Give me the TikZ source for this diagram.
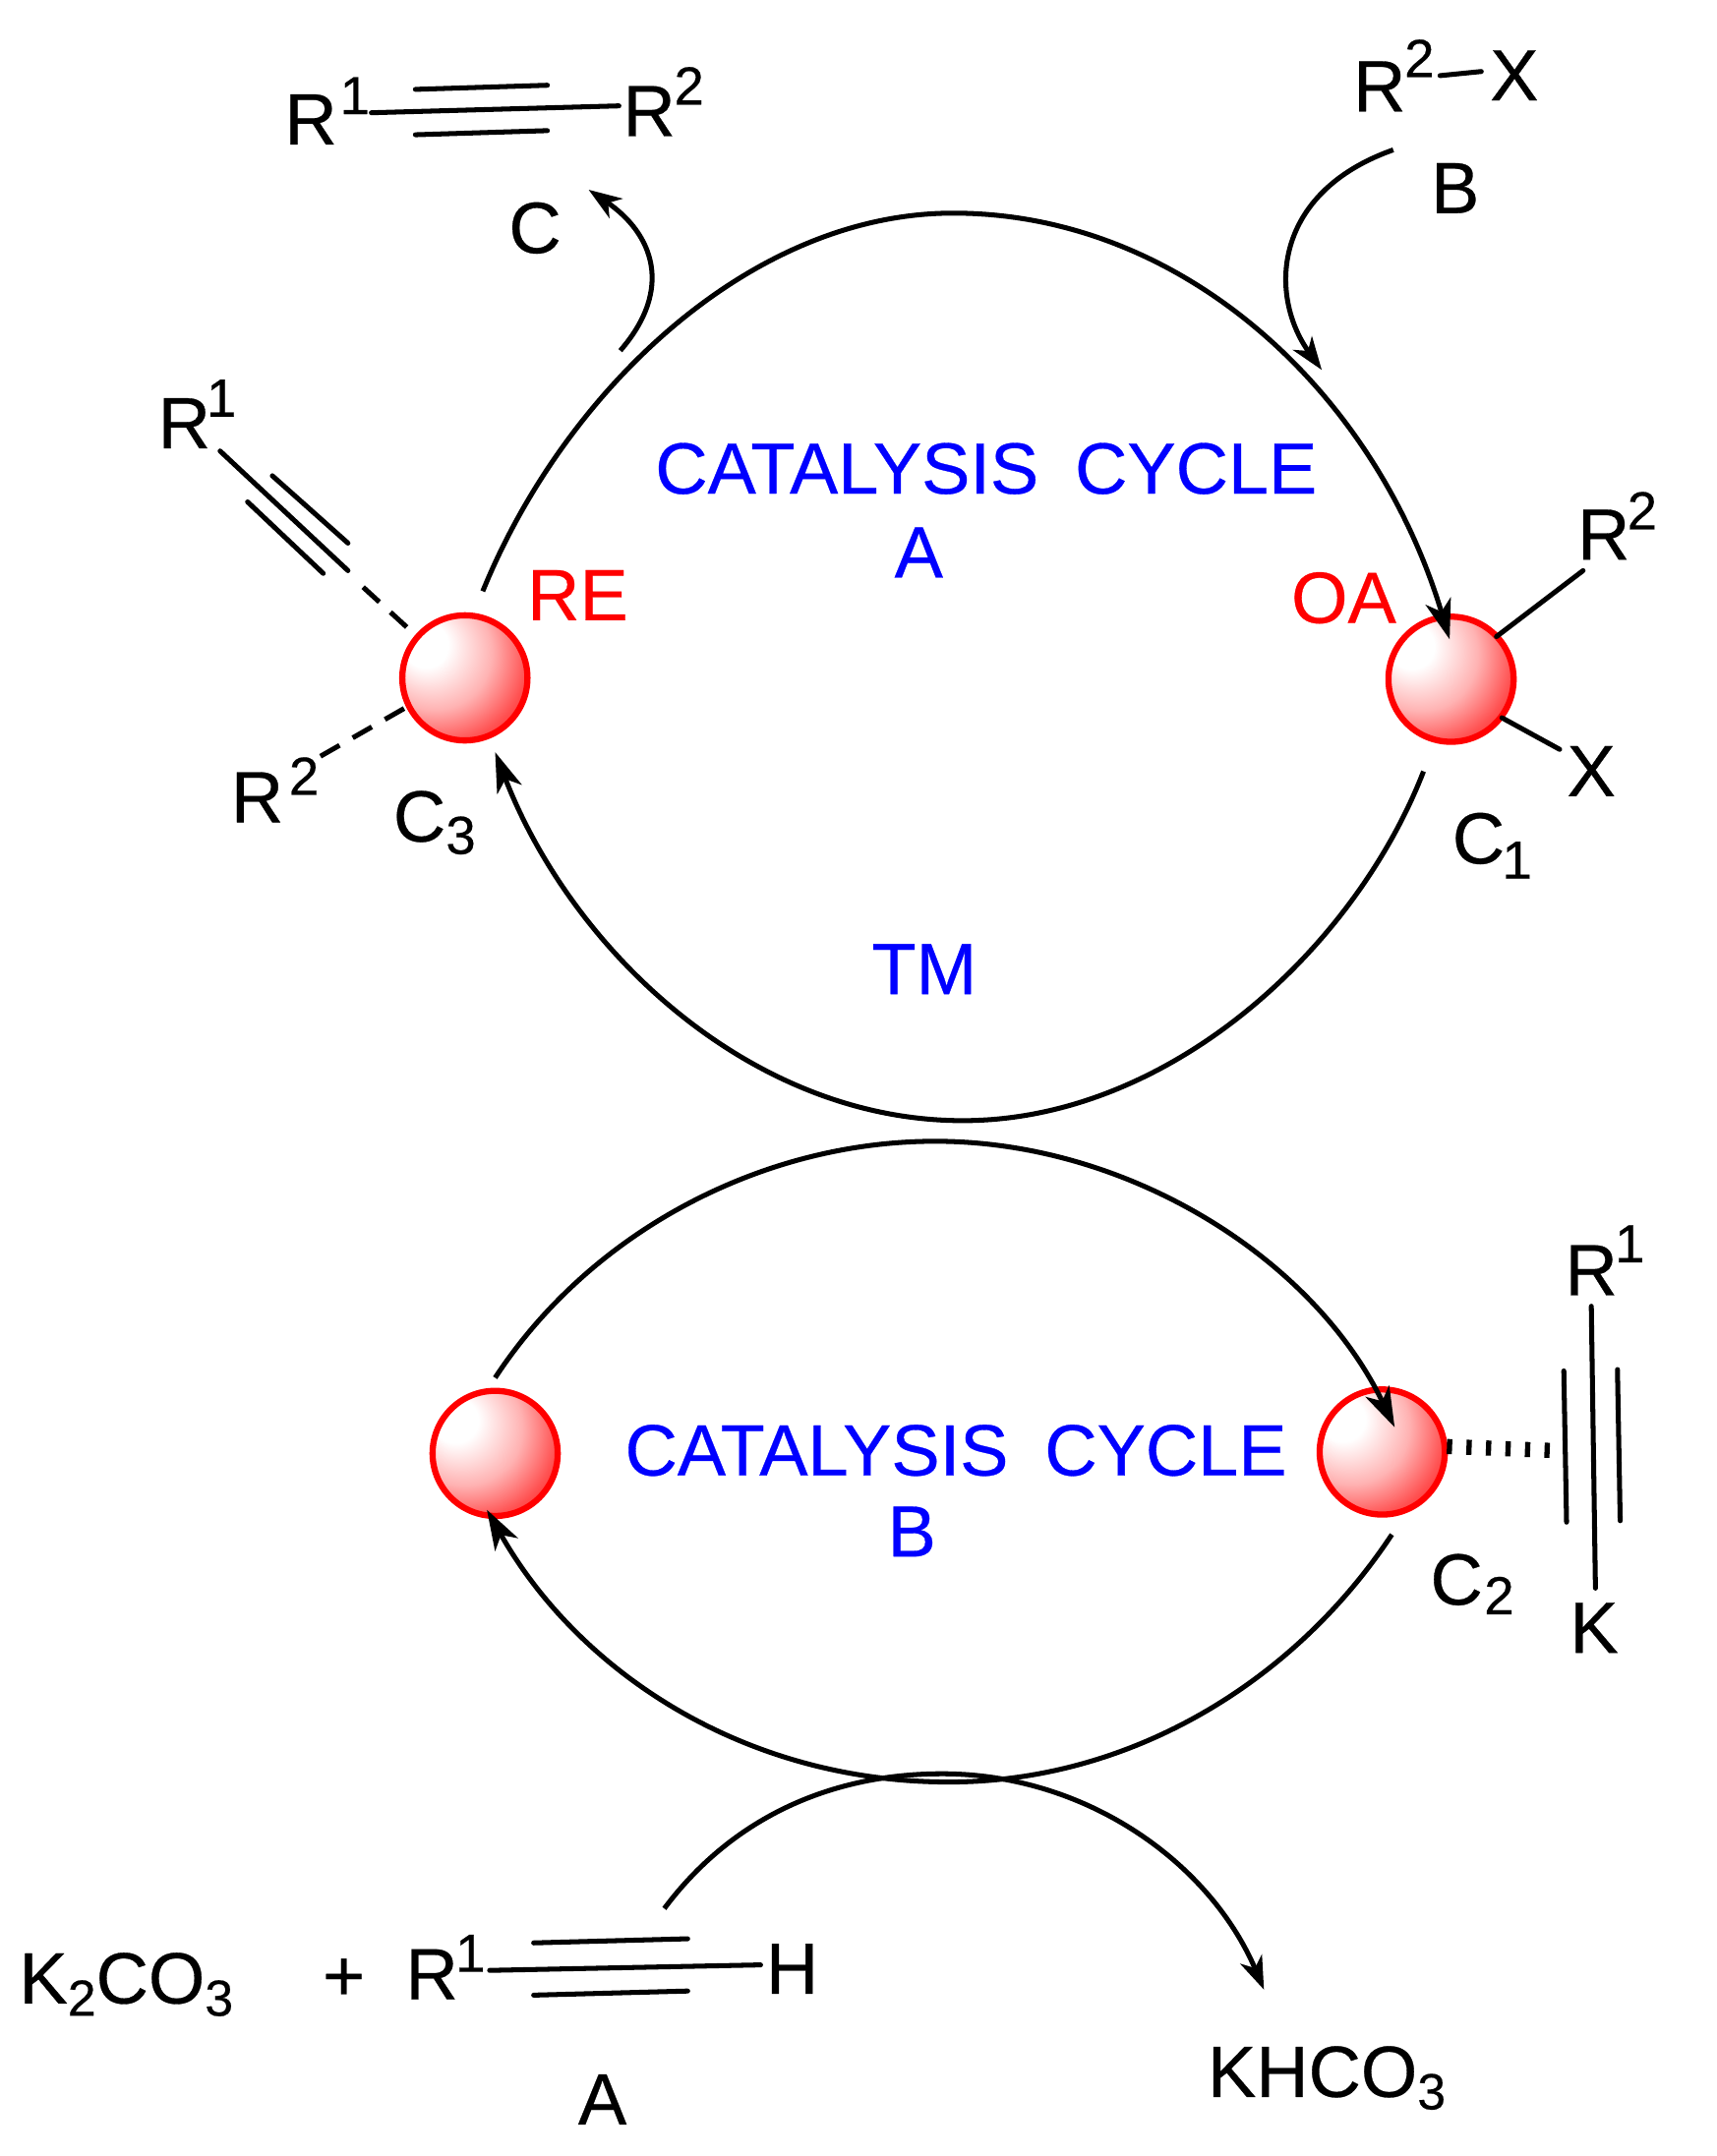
\documentclass[tikz,border=0pt]{standalone}
\usepackage{fontspec}
\setmainfont[FakeBold=0.4]{Liberation Sans}
\usetikzlibrary{arrows.meta}
\pgfdeclareradialshading{redball}{\pgfpoint{-18bp}{15bp}}{color(0bp)=(white);color(9bp)=(white);color(23bp)=(red!30!white);color(34bp)=(red!68!white);color(45bp)=(red!97!white);color(72bp)=(red)}
\newcommand{\bodyfs}{\fontsize{52.8}{60}\selectfont}
\newcommand{\supfs}{\fontsize{39}{44}\selectfont}
\newcommand{\subfs}{\fontsize{37}{44}\selectfont}
\tikzset{
  x=1pt,y=-1pt,
  lbl/.style={inner sep=0pt,outer sep=0pt,anchor=base,font=\bodyfs,text=black},
  scr/.style={inner sep=0pt,outer sep=0pt,anchor=base,font=\supfs,text=black},
  blue label/.style={lbl,text=blue},
  red label/.style={lbl,text=red},
  ball/.style={circle,minimum size=91pt,inner sep=0pt,draw=red,line width=4.5pt,shading=redball},
  curve/.style={line width=3.6pt,draw=black},
  tipped/.style={curve,-{Stealth[length=29pt,width=19pt,inset=8pt]}},
  tippedsmall/.style={curve,-{Stealth[length=24pt,width=17pt,inset=7pt]}},
  bond/.style={line width=3.6pt,draw=black,line cap=round},
  dashbond/.style={line width=3.6pt,draw=black,dash pattern=on 16pt off 11pt},
  hashbond/.style={line width=11pt,draw=black,dash pattern=on 3.8pt off 10.4pt},
}
\begin{document}
\begin{tikzpicture}
\useasboundingbox (0,0) rectangle (1248,1568);
% metal centres
\node[ball] (cthree) at (338,493) {};
\node[ball] (cone) at (1055,494) {};
\node[ball] (cfour) at (360,1057) {};
\node[ball] (ctwo) at (1005,1056) {};
% end points of the arcs
\coordinate (atop1) at (351,430);
\coordinate (atop2) at (693,155);
\coordinate (atop3) at (1054,465);
\coordinate (abot1) at (1035,561);
\coordinate (abot2) at (700,815);
\coordinate (abot3) at (360,547);
\coordinate (btop1) at (360,1002);
\coordinate (btop2) at (680,830);
\coordinate (btop3) at (1014,1038);
\coordinate (bbot1) at (1012,1116);
\coordinate (bbot2) at (690,1296);
\coordinate (bbot3) at (354,1098);
\coordinate (xarc1) at (483,1388);
\coordinate (xarc2) at (685,1290);
\coordinate (xarc3) at (919,1447);
\coordinate (carc1) at (451,255);
\coordinate (carc2) at (428,138);
\coordinate (barc1) at (1013,109);
\coordinate (barc2) at (961,269);
\draw[tipped] (atop1) .. controls (410,285) and (545,155) .. (atop2) .. controls (860,155) and (1000,285) .. (atop3);
\draw[tipped] (abot1) .. controls (985,690) and (850,815) .. (abot2) .. controls (545,815) and (415,690) .. (abot3);
\draw[tipped] (btop1) .. controls (430,895) and (555,830) .. (btop2) .. controls (820,830) and (955,915) .. (btop3);
\draw[tipped] (bbot1) .. controls (940,1225) and (820,1296) .. (bbot2) .. controls (540,1296) and (420,1215) .. (bbot3);
\draw[tippedsmall] (xarc1) .. controls (530,1325) and (600,1290) .. (xarc2) .. controls (790,1290) and (880,1355) .. (xarc3);
\draw[tippedsmall] (carc1) .. controls (490,210) and (475,170) .. (carc2);
\draw[tippedsmall] (barc1) .. controls (925,140) and (922,215) .. (barc2);
% top alkyne
\node[lbl] (ptR) at (226,105) {R};
\node[scr] (ptone) at (258,83) {1};
\node[lbl] (ptRb) at (472,99) {R};
\node[scr] (pttwo) at (501,76) {2};
\coordinate (pa1) at (270,82); \coordinate (pa2) at (450,77);
\coordinate (pb1) at (302,65); \coordinate (pb2) at (398,62);
\coordinate (pc1) at (302,98); \coordinate (pc2) at (398,95);
\draw[bond] (pa1) -- (pa2); \draw[bond] (pb1) -- (pb2); \draw[bond] (pc1) -- (pc2);
\node[lbl] (clabel) at (389,184) {C};
% R2-X
\node[lbl] (rxR) at (1003,81) {R};
\node[scr] (rxtwo) at (1032,56) {2};
\node[lbl] (rxX) at (1101,73) {X};
\coordinate (rx1) at (1047,55); \coordinate (rx2) at (1077,52);
\draw[bond] (rx1) -- (rx2);
\node[lbl] (blabel) at (1058,155) {B};
% C3
\node[lbl] (lR) at (134,326) {R};
\node[scr] (lone) at (161,303) {1};
\coordinate (l1) at (160,328); \coordinate (l2) at (253,415);
\coordinate (l3) at (198,346); \coordinate (l4) at (253,395);
\coordinate (l5) at (180,365); \coordinate (l6) at (235,417);
\coordinate (l7) at (264,427); \coordinate (l8) at (300,460);
\draw[bond] (l1) -- (l2); \draw[bond] (l3) -- (l4); \draw[bond] (l5) -- (l6);
\draw[dashbond] (l7) -- (l8);
\node[lbl] (lRb) at (187,598) {R};
\node[scr] (ltwo) at (221,578) {2};
\coordinate (l9) at (233,550); \coordinate (l10) at (296,514);
\draw[dashbond] (l9) -- (l10);
\node[lbl] (cthreeC) at (305,612) {C};
\node[scr] (cthreesub) at (335,621) {3};
\node[red label] (relabel) at (420,451) {RE};
\node[red label] (oalabel) at (977,453) {OA};
% text inside
\node[blue label] (cyclea) at (717,359) {CATALYSIS\hspace{0.5em}CYCLE};
\node[blue label] (alabelb) at (668,420) {A};
\node[blue label] (tm) at (672,723) {TM};
\node[blue label] (cycleb) at (695,1073) {CATALYSIS\hspace{0.5em}CYCLE};
\node[blue label] (blabelb) at (663,1132) {B};
% C1
\node[lbl] (rR) at (1166,407) {R};
\node[scr] (rtwo) at (1194,385) {2};
\node[lbl] (rX) at (1157,579) {X};
\coordinate (r1) at (1088,463); \coordinate (r2) at (1151,415);
\coordinate (r3) at (1092,522); \coordinate (r4) at (1134,545);
\draw[bond] (r1) -- (r2); \draw[bond] (r3) -- (r4);
\node[lbl] (coneC) at (1075,628) {C};
\node[scr] (conesub) at (1103,639) {1};
% C2
\node[lbl] (kR) at (1157,942) {R};
\node[scr] (kone) at (1185,918) {1};
\node[lbl] (kK) at (1159,1202) {K};
\coordinate (k1) at (1157,950); \coordinate (k2) at (1160,1155);
\coordinate (k3) at (1137,997); \coordinate (k4) at (1139,1107);
\coordinate (k5) at (1176,996); \coordinate (k6) at (1178,1106);
\coordinate (k7) at (1052,1052); \coordinate (k8) at (1132,1055);
\draw[bond] (k1) -- (k2); \draw[bond] (k3) -- (k4); \draw[bond] (k5) -- (k6);
\draw[hashbond] (k7) -- (k8);
\node[lbl] (ctwoC) at (1059,1167) {C};
\node[scr] (ctwosub) at (1090,1174) {2};
% bottom row
\node[lbl,anchor=base west] (carbonate) at (14,1457) {K\raisebox{-9pt}{\subfs 2}CO\raisebox{-9pt}{\subfs 3}};
\node[lbl] (plus) at (250,1455) {+};
\node[lbl] (bR) at (314,1454) {R};
\node[scr] (bone) at (342,1434) {1};
\node[lbl] (bH) at (576,1450) {H};
\coordinate (b1) at (356,1433); \coordinate (b2) at (553,1429);
\coordinate (b3) at (388,1413); \coordinate (b4) at (500,1410);
\coordinate (b5) at (388,1451); \coordinate (b6) at (500,1448);
\draw[bond] (b1) -- (b2); \draw[bond] (b3) -- (b4); \draw[bond] (b5) -- (b6);
\node[lbl] (alabel) at (438,1545) {A};
\node[lbl,anchor=base west] (bicarb) at (878,1525) {KHCO\raisebox{-9pt}{\subfs 3}};
\end{tikzpicture}
\end{document}
